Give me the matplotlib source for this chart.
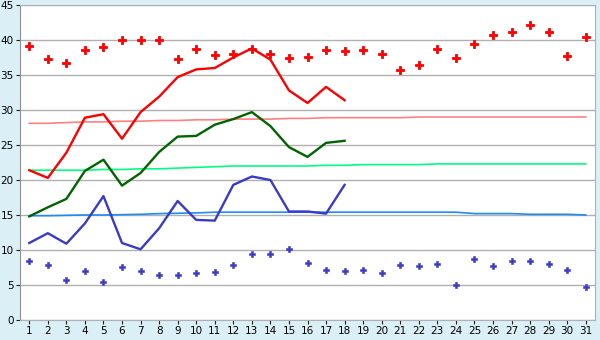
import matplotlib.pyplot as plt

# --- data ------------------------------------------------------------------
days = list(range(1, 32))
days_obs = list(range(1, 19))

rec_max = [39.1, 37.3, 36.7, 38.6, 39.0, 40.0, 40.0, 40.0, 37.3, 38.7,
           37.9, 38.0, 38.7, 38.0, 37.4, 37.6, 38.6, 38.4, 38.6, 38.0,
           35.7, 36.5, 38.7, 37.4, 39.4, 40.7, 41.1, 42.1, 41.1, 37.7, 40.4]
rec_min = [8.4, 7.8, 5.7, 7.0, 5.4, 7.6, 7.0, 6.4, 6.4, 6.7,
           6.8, 7.8, 9.5, 9.4, 10.1, 8.1, 7.2, 7.0, 7.2, 6.7,
           7.8, 7.7, 8.0, 5.0, 8.7, 7.7, 8.4, 8.4, 8.0, 7.1, 4.7]

obs_max = [21.4, 20.3, 23.9, 28.9, 29.4, 25.9, 29.7, 31.9, 34.7, 35.8,
           36.0, 37.5, 38.8, 37.2, 32.8, 31.0, 33.3, 31.4]
obs_mean = [14.8, 16.1, 17.3, 21.3, 22.9, 19.2, 21.0, 24.0, 26.2, 26.3,
            27.9, 28.7, 29.7, 27.7, 24.7, 23.3, 25.3, 25.6]
obs_min = [11.0, 12.4, 10.9, 13.8, 17.7, 11.0, 10.1, 13.1, 17.0, 14.3,
           14.2, 19.3, 20.5, 20.0, 15.5, 15.5, 15.2, 19.3]

norm_max = [28.1, 28.1, 28.2, 28.3, 28.3, 28.4, 28.4, 28.5, 28.5, 28.6,
            28.6, 28.7, 28.7, 28.7, 28.8, 28.8, 28.9, 28.9, 28.9, 28.9,
            28.9, 29.0, 29.0, 29.0, 29.0, 29.0, 29.0, 29.0, 29.0, 29.0, 29.0]
norm_mean = [21.4, 21.4, 21.4, 21.4, 21.5, 21.5, 21.6, 21.6, 21.7, 21.8,
             21.9, 22.0, 22.0, 22.0, 22.0, 22.0, 22.1, 22.1, 22.2, 22.2,
             22.2, 22.2, 22.3, 22.3, 22.3, 22.3, 22.3, 22.3, 22.3, 22.3, 22.3]
norm_min = [14.9, 14.9, 14.95, 15.0, 15.0, 15.05, 15.1, 15.2, 15.25, 15.3,
            15.4, 15.4, 15.4, 15.4, 15.4, 15.4, 15.4, 15.4, 15.4, 15.4,
            15.4, 15.4, 15.4, 15.4, 15.2, 15.2, 15.2, 15.1, 15.1, 15.1, 15.0]

# --- figure -----------------------------------------------------------------
fig = plt.figure(figsize=(6, 3.4), dpi=100, facecolor='#daeff6')
ax = fig.add_axes([20 / 600, 20 / 340, 575 / 600, 315 / 340])
ax.set_facecolor('white')

ax.plot(days, norm_max, color='#ff8080', lw=1.2)
ax.plot(days, norm_mean, color='#00ff80', lw=1.2)
ax.plot(days, norm_min, color='#1e8cf0', lw=1.2)

ax.plot(days_obs, obs_max, color='#ff0000', lw=1.7)
ax.plot(days_obs, obs_mean, color='#006400', lw=1.7)
ax.plot(days_obs, obs_min, color='#3a3ac8', lw=1.7)

ax.plot(days, rec_max, ls='none', marker='P', ms=5.2, color='#ff0000', mew=0.6)
ax.plot(days, rec_min, ls='none', marker='P', ms=4.4, color='#3a3ac8', mew=0.4)

ax.set_xlim(0.5, 31.5)
ax.set_ylim(0, 45)
ax.set_xticks(days)
ax.set_yticks(range(0, 46, 5))
ax.yaxis.grid(True, color='#b0b0b0', lw=1)
ax.set_axisbelow(True)
for s in ax.spines.values():
    s.set_color('#b0b0b0')
ax.spines['left'].set_color('#909090')
ax.tick_params(axis='both', labelsize=7.5, length=3, color='#202020', pad=1.5)

fig.savefig('out.png', dpi=100, facecolor=fig.get_facecolor())
